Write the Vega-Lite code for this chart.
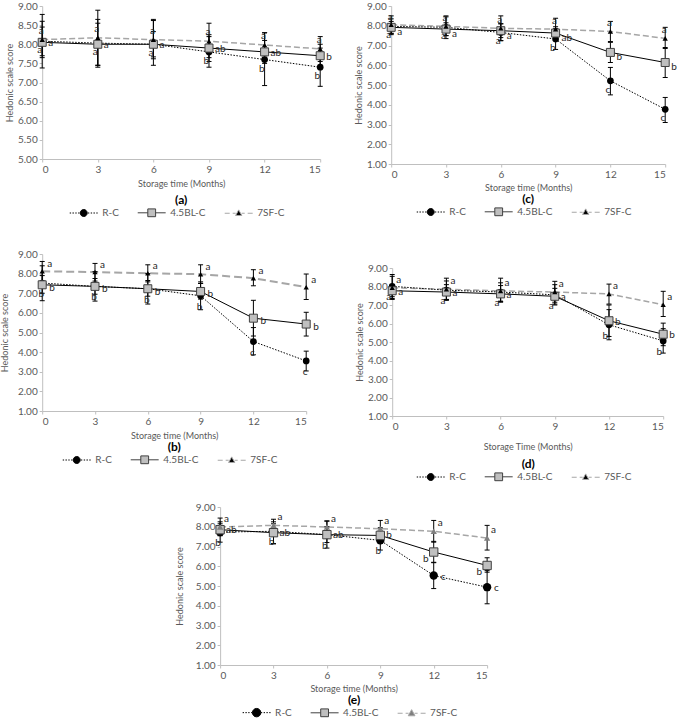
{
"$schema":"https://vega.github.io/schema/vega-lite/v6.json",
"padding":{"left":0,"top":1,"right":2,"bottom":0},
"config":{
 "font":"Lato",
 "view":{"stroke":null},
 "axis":{"grid":false,"domainColor":"#bfbfbf","tickColor":"#bfbfbf","tickSize":3,"labelFontSize":10,"labelColor":"#595959","labelPadding":2,"titleFontSize":9,"titleFontWeight":"normal","titleColor":"#595959","titlePadding":3},
 "legend":{"orient":"bottom","direction":"horizontal","titleOrient":"top","titleAnchor":"middle","titleFontSize":12,"titleFontWeight":"bold","titleColor":"#000000","titlePadding":-1,"labelFontSize":10,"labelColor":"#595959","labelOffset":12,"symbolSize":144,"symbolStrokeWidth":1,"columnPadding":16,"gridAlign":"each","offset":4,"padding":0,"layout":{"bottom":{"anchor":"middle"}}}
},
"datasets":{
"a":[
{"month":0,"series":"R-C","score":8.08,"lo":7.38,"hi":8.78,"sig":"a"},
{"month":0,"series":"4.5BL-C","score":8.05,"lo":7.65,"hi":8.45,"sig":"a"},
{"month":0,"series":"7SF-C","score":8.12,"lo":7.7,"hi":8.6,"sig":"a"},
{"month":3,"series":"R-C","score":8.03,"lo":7.4,"hi":8.65,"sig":"a"},
{"month":3,"series":"4.5BL-C","score":8.0,"lo":7.45,"hi":8.55,"sig":"a"},
{"month":3,"series":"7SF-C","score":8.17,"lo":7.45,"hi":8.89,"sig":"a"},
{"month":6,"series":"R-C","score":8.0,"lo":7.45,"hi":8.62,"sig":"a"},
{"month":6,"series":"4.5BL-C","score":8.0,"lo":7.67,"hi":8.33,"sig":"a"},
{"month":6,"series":"7SF-C","score":8.12,"lo":7.62,"hi":8.65,"sig":"a"},
{"month":9,"series":"R-C","score":7.8,"lo":7.4,"hi":8.2,"sig":"b"},
{"month":9,"series":"4.5BL-C","score":7.9,"lo":7.55,"hi":8.25,"sig":"ab"},
{"month":9,"series":"7SF-C","score":8.08,"lo":7.65,"hi":8.55,"sig":"a"},
{"month":12,"series":"R-C","score":7.6,"lo":6.92,"hi":8.3,"sig":"b"},
{"month":12,"series":"4.5BL-C","score":7.8,"lo":7.5,"hi":8.1,"sig":"ab"},
{"month":12,"series":"7SF-C","score":7.98,"lo":7.7,"hi":8.3,"sig":"a"},
{"month":15,"series":"R-C","score":7.4,"lo":6.9,"hi":7.9,"sig":"b"},
{"month":15,"series":"4.5BL-C","score":7.7,"lo":7.4,"hi":8.0,"sig":"b"},
{"month":15,"series":"7SF-C","score":7.88,"lo":7.55,"hi":8.2,"sig":"a"}
],
"b":[
{"month":0,"series":"R-C","score":7.52,"lo":6.62,"hi":8.4,"sig":"b"},
{"month":0,"series":"4.5BL-C","score":7.43,"lo":7.0,"hi":7.9,"sig":"b"},
{"month":0,"series":"7SF-C","score":8.12,"lo":7.6,"hi":8.62,"sig":"a"},
{"month":3,"series":"R-C","score":7.35,"lo":6.6,"hi":8.1,"sig":"b"},
{"month":3,"series":"4.5BL-C","score":7.35,"lo":6.95,"hi":7.75,"sig":"b"},
{"month":3,"series":"7SF-C","score":8.08,"lo":7.62,"hi":8.52,"sig":"a"},
{"month":6,"series":"R-C","score":7.23,"lo":6.45,"hi":8.0,"sig":"b"},
{"month":6,"series":"4.5BL-C","score":7.23,"lo":6.85,"hi":7.65,"sig":"b"},
{"month":6,"series":"7SF-C","score":8.02,"lo":7.58,"hi":8.45,"sig":"a"},
{"month":9,"series":"R-C","score":6.87,"lo":6.16,"hi":7.58,"sig":"b"},
{"month":9,"series":"4.5BL-C","score":7.09,"lo":6.7,"hi":7.5,"sig":"b"},
{"month":9,"series":"7SF-C","score":7.97,"lo":7.5,"hi":8.45,"sig":"a"},
{"month":12,"series":"R-C","score":4.54,"lo":3.86,"hi":5.25,"sig":"c"},
{"month":12,"series":"4.5BL-C","score":5.73,"lo":4.82,"hi":6.64,"sig":"b"},
{"month":12,"series":"7SF-C","score":7.77,"lo":7.38,"hi":8.2,"sig":"a"},
{"month":15,"series":"R-C","score":3.55,"lo":3.04,"hi":4.05,"sig":"c"},
{"month":15,"series":"4.5BL-C","score":5.43,"lo":4.82,"hi":6.03,"sig":"b"},
{"month":15,"series":"7SF-C","score":7.31,"lo":6.68,"hi":7.98,"sig":"a"}
],
"c":[
{"month":0,"series":"R-C","score":7.97,"lo":7.55,"hi":8.35,"sig":"a"},
{"month":0,"series":"4.5BL-C","score":7.92,"lo":7.62,"hi":8.22,"sig":"a"},
{"month":0,"series":"7SF-C","score":8.05,"lo":7.6,"hi":8.5,"sig":"a"},
{"month":3,"series":"R-C","score":7.92,"lo":7.35,"hi":8.45,"sig":"a"},
{"month":3,"series":"4.5BL-C","score":7.83,"lo":7.5,"hi":8.15,"sig":"a"},
{"month":3,"series":"7SF-C","score":7.97,"lo":7.5,"hi":8.5,"sig":"a"},
{"month":6,"series":"R-C","score":7.66,"lo":7.24,"hi":8.1,"sig":"a"},
{"month":6,"series":"4.5BL-C","score":7.75,"lo":7.4,"hi":8.1,"sig":"a"},
{"month":6,"series":"7SF-C","score":7.87,"lo":7.25,"hi":8.5,"sig":"a"},
{"month":9,"series":"R-C","score":7.33,"lo":6.8,"hi":7.85,"sig":"b"},
{"month":9,"series":"4.5BL-C","score":7.63,"lo":7.3,"hi":7.95,"sig":"ab"},
{"month":9,"series":"7SF-C","score":7.83,"lo":7.3,"hi":8.38,"sig":"a"},
{"month":12,"series":"R-C","score":5.21,"lo":4.5,"hi":5.89,"sig":"c"},
{"month":12,"series":"4.5BL-C","score":6.65,"lo":6.14,"hi":7.16,"sig":"b"},
{"month":12,"series":"7SF-C","score":7.71,"lo":7.2,"hi":8.22,"sig":"a"},
{"month":15,"series":"R-C","score":3.77,"lo":3.1,"hi":4.37,"sig":"c"},
{"month":15,"series":"4.5BL-C","score":6.14,"lo":5.38,"hi":6.9,"sig":"b"},
{"month":15,"series":"7SF-C","score":7.36,"lo":6.85,"hi":7.92,"sig":"a"}
],
"d":[
{"month":0,"series":"R-C","score":8.01,"lo":7.35,"hi":8.65,"sig":"a"},
{"month":0,"series":"4.5BL-C","score":7.77,"lo":7.45,"hi":8.1,"sig":"a"},
{"month":0,"series":"7SF-C","score":7.93,"lo":7.3,"hi":8.55,"sig":"a"},
{"month":3,"series":"R-C","score":7.8,"lo":7.3,"hi":8.3,"sig":"a"},
{"month":3,"series":"4.5BL-C","score":7.7,"lo":7.3,"hi":8.1,"sig":"a"},
{"month":3,"series":"7SF-C","score":7.85,"lo":7.25,"hi":8.45,"sig":"a"},
{"month":6,"series":"R-C","score":7.7,"lo":7.2,"hi":8.2,"sig":"a"},
{"month":6,"series":"4.5BL-C","score":7.6,"lo":7.15,"hi":8.05,"sig":"a"},
{"month":6,"series":"7SF-C","score":7.76,"lo":7.2,"hi":8.45,"sig":"a"},
{"month":9,"series":"R-C","score":7.55,"lo":7.0,"hi":8.1,"sig":"a"},
{"month":9,"series":"4.5BL-C","score":7.47,"lo":7.05,"hi":7.9,"sig":"a"},
{"month":9,"series":"7SF-C","score":7.7,"lo":7.15,"hi":8.28,"sig":"a"},
{"month":12,"series":"R-C","score":5.93,"lo":5.12,"hi":6.75,"sig":"b"},
{"month":12,"series":"4.5BL-C","score":6.15,"lo":5.3,"hi":7.0,"sig":"b"},
{"month":12,"series":"7SF-C","score":7.6,"lo":7.05,"hi":8.13,"sig":"a"},
{"month":15,"series":"R-C","score":5.06,"lo":4.4,"hi":5.72,"sig":"b"},
{"month":15,"series":"4.5BL-C","score":5.42,"lo":4.8,"hi":6.02,"sig":"b"},
{"month":15,"series":"7SF-C","score":7.01,"lo":6.38,"hi":7.74,"sig":"a"}
],
"e":[
{"month":0,"series":"R-C","score":7.73,"lo":7.22,"hi":8.25,"sig":"b"},
{"month":0,"series":"4.5BL-C","score":7.85,"lo":7.55,"hi":8.15,"sig":"ab"},
{"month":0,"series":"7SF-C","score":7.99,"lo":7.55,"hi":8.44,"sig":"a"},
{"month":3,"series":"R-C","score":7.77,"lo":7.14,"hi":8.15,"sig":"b"},
{"month":3,"series":"4.5BL-C","score":7.7,"lo":7.14,"hi":8.25,"sig":"ab"},
{"month":3,"series":"7SF-C","score":8.07,"lo":7.75,"hi":8.38,"sig":"a"},
{"month":6,"series":"R-C","score":7.6,"lo":6.92,"hi":8.28,"sig":"b"},
{"month":6,"series":"4.5BL-C","score":7.6,"lo":7.2,"hi":8.0,"sig":"ab"},
{"month":6,"series":"7SF-C","score":7.99,"lo":7.7,"hi":8.3,"sig":"a"},
{"month":9,"series":"R-C","score":7.31,"lo":6.82,"hi":7.8,"sig":"b"},
{"month":9,"series":"4.5BL-C","score":7.56,"lo":7.15,"hi":7.95,"sig":"b"},
{"month":9,"series":"7SF-C","score":7.9,"lo":7.5,"hi":8.32,"sig":"a"},
{"month":12,"series":"R-C","score":5.53,"lo":4.87,"hi":6.18,"sig":"c"},
{"month":12,"series":"4.5BL-C","score":6.72,"lo":6.2,"hi":7.26,"sig":"b"},
{"month":12,"series":"7SF-C","score":7.77,"lo":7.22,"hi":8.32,"sig":"a"},
{"month":15,"series":"R-C","score":4.94,"lo":4.1,"hi":5.78,"sig":"c"},
{"month":15,"series":"4.5BL-C","score":6.04,"lo":5.7,"hi":6.43,"sig":"b"},
{"month":15,"series":"7SF-C","score":7.43,"lo":6.82,"hi":8.07,"sig":"a"}
]
},
"vconcat":[
{"vconcat":[
 {"hconcat":[
  {"width":278,"height":153,"data":{"name":"a"},
   "encoding":{
    "x":{"field":"month","type":"quantitative","scale":{"domain":[0,15],"nice":false},"axis":{"values":[0,3,6,9,12,15],"title":"Storage time (Months)","titlePadding":5}},
    "y":{"field":"score","type":"quantitative","title":"Hedonic scale score","scale":{"domain":[5,9],"nice":false,"zero":false},"axis":{"values":[5,5.5,6,6.5,7,7.5,8,8.5,9],"format":".2f"}}
   },
   "layer":[
    {"transform":[{"filter":"false"}],"mark":{"type":"point","opacity":1,"strokeWidth":1},
     "encoding":{
      "shape":{"field":"series","type":"nominal","title":"(a)","legend":{"offset":7},"scale":{"domain":["R-C","4.5BL-C","7SF-C"],"range":["M-2.33,0H-2.1M-1.87,0H-1.63M-1.4,0H-1.17M-0.93,0H-0.7M0.7,0H0.93M1.17,0H1.4M1.63,0H1.87M2.1,0H2.33M-0.58,0A0.58,0.58,0,1,0,0.58,0A0.58,0.58,0,1,0,-0.58,0Z","M-2.33,0H-0.65M0.65,0H2.33M-0.65,-0.65H0.65V0.65H-0.65Z","M-2.33,0H-1.5M-1,0H-0.5M0.5,0H1M1.5,0H2.33M0,-0.56L0.51,0.37L-0.51,0.37Z"]}},
      "fill":{"field":"series","type":"nominal","title":"(a)","legend":{"offset":7},"scale":{"domain":["R-C","4.5BL-C","7SF-C"],"range":["#000000","#bfbfbf","#000000"]}},
      "stroke":{"field":"series","type":"nominal","title":"(a)","legend":{"offset":7},"scale":{"domain":["R-C","4.5BL-C","7SF-C"],"range":["#000000","#404040","#a6a6a6"]}}
     }},
    {"transform":[{"filter":"datum.series=='7SF-C'"}],"mark":{"type":"line","color":"#a6a6a6","strokeWidth":1.5,"strokeDash":[6,3]},"encoding":{}},
    {"transform":[{"filter":"datum.series=='4.5BL-C'"}],"mark":{"type":"line","color":"#000000","strokeWidth":1},"encoding":{}},
    {"transform":[{"filter":"datum.series=='R-C'"}],"mark":{"type":"line","color":"#000000","strokeWidth":1,"strokeDash":[1.5,1.5]},"encoding":{}},
    {"mark":{"type":"rule","color":"#000000","strokeWidth":1},"encoding":{"y":{"field":"lo","type":"quantitative","title":"Hedonic scale score","scale":{"domain":[5,9],"nice":false,"zero":false}},"y2":{"field":"hi"}}},
    {"mark":{"type":"tick","orient":"horizontal","size":5,"thickness":1,"color":"#000000","opacity":1},"encoding":{"y":{"field":"lo","type":"quantitative","title":"Hedonic scale score","scale":{"domain":[5,9],"nice":false,"zero":false}}}},
    {"mark":{"type":"tick","orient":"horizontal","size":5,"thickness":1,"color":"#000000","opacity":1},"encoding":{"y":{"field":"hi","type":"quantitative","title":"Hedonic scale score","scale":{"domain":[5,9],"nice":false,"zero":false}}}},
    {"transform":[{"filter":"datum.series=='R-C'"}],"mark":{"type":"point","shape":"circle","filled":true,"color":"#000000","size":45,"opacity":1}},
    {"transform":[{"filter":"datum.series=='4.5BL-C'"}],"mark":{"type":"point","shape":"square","filled":true,"color":"#bfbfbf","stroke":"#404040","strokeWidth":1,"size":64,"opacity":1}},
    {"transform":[{"filter":"datum.series=='7SF-C'"}],"mark":{"type":"point","shape":"triangle-up","filled":true,"color":"#000000","size":28,"opacity":1}},
    {"transform":[{"filter":"datum.series=='7SF-C'"}],"mark":{"type":"text","align":"center","dx":-1,"dy":-9,"fontSize":10,"color":"#262626"},"encoding":{"text":{"field":"sig"}}},
    {"transform":[{"filter":"datum.series=='4.5BL-C'"}],"mark":{"type":"text","align":"left","dx":6,"dy":1,"fontSize":10,"color":"#262626"},"encoding":{"text":{"field":"sig"}}},
    {"transform":[{"filter":"datum.series=='R-C'"}],"mark":{"type":"text","align":"right","dx":0,"dy":9,"fontSize":10,"color":"#262626"},"encoding":{"text":{"field":"sig"}}}
   ]},
  {"width":274,"height":158,"data":{"name":"c"},
   "encoding":{
    "x":{"field":"month","type":"quantitative","scale":{"domain":[0,15],"nice":false},"axis":{"values":[0,3,6,9,12,15],"title":"Storage time (Months)","titlePadding":4}},
    "y":{"field":"score","type":"quantitative","title":"Hedonic scale score","scale":{"domain":[1,9],"nice":false,"zero":false},"axis":{"values":[1,2,3,4,5,6,7,8,9],"format":".2f"}}
   },
   "layer":[
    {"transform":[{"filter":"false"}],"mark":{"type":"point","opacity":1,"strokeWidth":1},
     "encoding":{
      "shape":{"field":"series","type":"nominal","title":"(c)","legend":{"offset":2},"scale":{"domain":["R-C","4.5BL-C","7SF-C"],"range":["M-2.33,0H-2.1M-1.87,0H-1.63M-1.4,0H-1.17M-0.93,0H-0.7M0.7,0H0.93M1.17,0H1.4M1.63,0H1.87M2.1,0H2.33M-0.58,0A0.58,0.58,0,1,0,0.58,0A0.58,0.58,0,1,0,-0.58,0Z","M-2.33,0H-0.65M0.65,0H2.33M-0.65,-0.65H0.65V0.65H-0.65Z","M-2.33,0H-1.5M-1,0H-0.5M0.5,0H1M1.5,0H2.33M0,-0.56L0.51,0.37L-0.51,0.37Z"]}},
      "fill":{"field":"series","type":"nominal","title":"(c)","legend":{"offset":2},"scale":{"domain":["R-C","4.5BL-C","7SF-C"],"range":["#000000","#bfbfbf","#000000"]}},
      "stroke":{"field":"series","type":"nominal","title":"(c)","legend":{"offset":2},"scale":{"domain":["R-C","4.5BL-C","7SF-C"],"range":["#000000","#404040","#a6a6a6"]}}
     }},
    {"transform":[{"filter":"datum.series=='7SF-C'"}],"mark":{"type":"line","color":"#a6a6a6","strokeWidth":1.5,"strokeDash":[6,3]},"encoding":{}},
    {"transform":[{"filter":"datum.series=='4.5BL-C'"}],"mark":{"type":"line","color":"#000000","strokeWidth":1},"encoding":{}},
    {"transform":[{"filter":"datum.series=='R-C'"}],"mark":{"type":"line","color":"#000000","strokeWidth":1,"strokeDash":[1.5,1.5]},"encoding":{}},
    {"mark":{"type":"rule","color":"#000000","strokeWidth":1},"encoding":{"y":{"field":"lo","type":"quantitative","title":"Hedonic scale score","scale":{"domain":[1,9],"nice":false,"zero":false}},"y2":{"field":"hi"}}},
    {"mark":{"type":"tick","orient":"horizontal","size":5,"thickness":1,"color":"#000000","opacity":1},"encoding":{"y":{"field":"lo","type":"quantitative","title":"Hedonic scale score","scale":{"domain":[1,9],"nice":false,"zero":false}}}},
    {"mark":{"type":"tick","orient":"horizontal","size":5,"thickness":1,"color":"#000000","opacity":1},"encoding":{"y":{"field":"hi","type":"quantitative","title":"Hedonic scale score","scale":{"domain":[1,9],"nice":false,"zero":false}}}},
    {"transform":[{"filter":"datum.series=='R-C'"}],"mark":{"type":"point","shape":"circle","filled":true,"color":"#000000","size":45,"opacity":1}},
    {"transform":[{"filter":"datum.series=='4.5BL-C'"}],"mark":{"type":"point","shape":"square","filled":true,"color":"#bfbfbf","stroke":"#404040","strokeWidth":1,"size":64,"opacity":1}},
    {"transform":[{"filter":"datum.series=='7SF-C'"}],"mark":{"type":"point","shape":"triangle-up","filled":true,"color":"#000000","size":28,"opacity":1}},
    {"transform":[{"filter":"datum.series=='7SF-C'"}],"mark":{"type":"text","align":"center","dx":-1,"dy":-8,"fontSize":10,"color":"#262626"},"encoding":{"text":{"field":"sig"}}},
    {"transform":[{"filter":"datum.series=='4.5BL-C'"}],"mark":{"type":"text","align":"left","dx":6,"dy":5,"fontSize":10,"color":"#262626"},"encoding":{"text":{"field":"sig"}}},
    {"transform":[{"filter":"datum.series=='R-C'"}],"mark":{"type":"text","align":"right","dx":0,"dy":9,"fontSize":10,"color":"#262626"},"encoding":{"text":{"field":"sig"}}}
   ]}
 ],"spacing":22,"resolve":{"scale":{"x":"independent","y":"independent","shape":"independent","fill":"independent","stroke":"independent"},"legend":{"shape":"independent","fill":"independent","stroke":"independent"}}},
 {"hconcat":[
  {"width":264,"height":157,"data":{"name":"b"},
   "encoding":{
    "x":{"field":"month","type":"quantitative","scale":{"domain":[0,15],"nice":false},"axis":{"values":[0,3,6,9,12,15],"title":"Storage time (Months)","titlePadding":5}},
    "y":{"field":"score","type":"quantitative","title":"Hedonic scale score","scale":{"domain":[1,9],"nice":false,"zero":false},"axis":{"values":[1,2,3,4,5,6,7,8,9],"format":".2f","titlePadding":8}}
   },
   "layer":[
    {"transform":[{"filter":"false"}],"mark":{"type":"point","opacity":1,"strokeWidth":1},
     "encoding":{
      "shape":{"field":"series","type":"nominal","title":"(b)","legend":{"offset":2},"scale":{"domain":["R-C","4.5BL-C","7SF-C"],"range":["M-2.33,0H-2.1M-1.87,0H-1.63M-1.4,0H-1.17M-0.93,0H-0.7M0.7,0H0.93M1.17,0H1.4M1.63,0H1.87M2.1,0H2.33M-0.58,0A0.58,0.58,0,1,0,0.58,0A0.58,0.58,0,1,0,-0.58,0Z","M-2.33,0H-0.65M0.65,0H2.33M-0.65,-0.65H0.65V0.65H-0.65Z","M-2.33,0H-1.5M-1,0H-0.5M0.5,0H1M1.5,0H2.33M0,-0.56L0.51,0.37L-0.51,0.37Z"]}},
      "fill":{"field":"series","type":"nominal","title":"(b)","legend":{"offset":2},"scale":{"domain":["R-C","4.5BL-C","7SF-C"],"range":["#000000","#bfbfbf","#000000"]}},
      "stroke":{"field":"series","type":"nominal","title":"(b)","legend":{"offset":2},"scale":{"domain":["R-C","4.5BL-C","7SF-C"],"range":["#000000","#404040","#a6a6a6"]}}
     }},
    {"transform":[{"filter":"datum.series=='7SF-C'"}],"mark":{"type":"line","color":"#a6a6a6","strokeWidth":2,"strokeDash":[8,4]},"encoding":{}},
    {"transform":[{"filter":"datum.series=='4.5BL-C'"}],"mark":{"type":"line","color":"#000000","strokeWidth":1},"encoding":{}},
    {"transform":[{"filter":"datum.series=='R-C'"}],"mark":{"type":"line","color":"#000000","strokeWidth":1,"strokeDash":[1.5,1.5]},"encoding":{}},
    {"mark":{"type":"rule","color":"#000000","strokeWidth":1},"encoding":{"y":{"field":"lo","type":"quantitative","title":"Hedonic scale score","scale":{"domain":[1,9],"nice":false,"zero":false}},"y2":{"field":"hi"}}},
    {"mark":{"type":"tick","orient":"horizontal","size":5,"thickness":1,"color":"#000000","opacity":1},"encoding":{"y":{"field":"lo","type":"quantitative","title":"Hedonic scale score","scale":{"domain":[1,9],"nice":false,"zero":false}}}},
    {"mark":{"type":"tick","orient":"horizontal","size":5,"thickness":1,"color":"#000000","opacity":1},"encoding":{"y":{"field":"hi","type":"quantitative","title":"Hedonic scale score","scale":{"domain":[1,9],"nice":false,"zero":false}}}},
    {"transform":[{"filter":"datum.series=='R-C'"}],"mark":{"type":"point","shape":"circle","filled":true,"color":"#000000","size":45,"opacity":1}},
    {"transform":[{"filter":"datum.series=='4.5BL-C'"}],"mark":{"type":"point","shape":"square","filled":true,"color":"#bfbfbf","stroke":"#404040","strokeWidth":1,"size":64,"opacity":1}},
    {"transform":[{"filter":"datum.series=='7SF-C'"}],"mark":{"type":"point","shape":"triangle-up","filled":true,"color":"#000000","size":28,"opacity":1}},
    {"transform":[{"filter":"datum.series=='7SF-C'"}],"mark":{"type":"text","align":"left","dx":5,"dy":-7,"fontSize":10,"color":"#262626"},"encoding":{"text":{"field":"sig"}}},
    {"transform":[{"filter":"datum.series=='4.5BL-C'"}],"mark":{"type":"text","align":"left","dx":7,"dy":3,"fontSize":10,"color":"#262626"},"encoding":{"text":{"field":"sig"}}},
    {"transform":[{"filter":"datum.series=='R-C'"}],"mark":{"type":"text","align":"center","dx":-1,"dy":11,"fontSize":10,"color":"#262626"},"encoding":{"text":{"field":"sig"}}}
   ]},
  {"width":271,"height":162,"data":{"name":"d"},
   "encoding":{
    "x":{"field":"month","type":"quantitative","scale":{"domain":[0,15],"nice":false},"axis":{"values":[0,3,6,9,12,15],"title":"Storage Time (Months)","titlePadding":11}},
    "y":{"field":"score","type":"quantitative","title":"Hedonic scale score","scale":{"domain":[1,9],"nice":false,"zero":false,"range":[162,14]},"axis":{"values":[1,2,3,4,5,6,7,8,9],"format":".2f"}}
   },
   "layer":[
    {"transform":[{"filter":"false"}],"mark":{"type":"point","opacity":1,"strokeWidth":1},
     "encoding":{
      "shape":{"field":"series","type":"nominal","title":"(d)","legend":{"offset":8},"scale":{"domain":["R-C","4.5BL-C","7SF-C"],"range":["M-2.33,0H-2.1M-1.87,0H-1.63M-1.4,0H-1.17M-0.93,0H-0.7M0.7,0H0.93M1.17,0H1.4M1.63,0H1.87M2.1,0H2.33M-0.58,0A0.58,0.58,0,1,0,0.58,0A0.58,0.58,0,1,0,-0.58,0Z","M-2.33,0H-0.65M0.65,0H2.33M-0.65,-0.65H0.65V0.65H-0.65Z","M-2.33,0H-1.5M-1,0H-0.5M0.5,0H1M1.5,0H2.33M0,-0.56L0.51,0.37L-0.51,0.37Z"]}},
      "fill":{"field":"series","type":"nominal","title":"(d)","legend":{"offset":8},"scale":{"domain":["R-C","4.5BL-C","7SF-C"],"range":["#000000","#bfbfbf","#000000"]}},
      "stroke":{"field":"series","type":"nominal","title":"(d)","legend":{"offset":8},"scale":{"domain":["R-C","4.5BL-C","7SF-C"],"range":["#000000","#404040","#a6a6a6"]}}
     }},
    {"transform":[{"filter":"datum.series=='7SF-C'"}],"mark":{"type":"line","color":"#a6a6a6","strokeWidth":1.5,"strokeDash":[6,3]},"encoding":{}},
    {"transform":[{"filter":"datum.series=='4.5BL-C'"}],"mark":{"type":"line","color":"#000000","strokeWidth":1},"encoding":{}},
    {"transform":[{"filter":"datum.series=='R-C'"}],"mark":{"type":"line","color":"#000000","strokeWidth":1,"strokeDash":[1.5,1.5]},"encoding":{}},
    {"mark":{"type":"rule","color":"#000000","strokeWidth":1},"encoding":{"y":{"field":"lo","type":"quantitative","title":"Hedonic scale score","scale":{"domain":[1,9],"nice":false,"zero":false,"range":[162,14]}},"y2":{"field":"hi"}}},
    {"mark":{"type":"tick","orient":"horizontal","size":5,"thickness":1,"color":"#000000","opacity":1},"encoding":{"y":{"field":"lo","type":"quantitative","title":"Hedonic scale score","scale":{"domain":[1,9],"nice":false,"zero":false,"range":[162,14]}}}},
    {"mark":{"type":"tick","orient":"horizontal","size":5,"thickness":1,"color":"#000000","opacity":1},"encoding":{"y":{"field":"hi","type":"quantitative","title":"Hedonic scale score","scale":{"domain":[1,9],"nice":false,"zero":false,"range":[162,14]}}}},
    {"transform":[{"filter":"datum.series=='R-C'"}],"mark":{"type":"point","shape":"circle","filled":true,"color":"#000000","size":45,"opacity":1}},
    {"transform":[{"filter":"datum.series=='4.5BL-C'"}],"mark":{"type":"point","shape":"square","filled":true,"color":"#bfbfbf","stroke":"#404040","strokeWidth":1,"size":64,"opacity":1}},
    {"transform":[{"filter":"datum.series=='7SF-C'"}],"mark":{"type":"point","shape":"triangle-up","filled":true,"color":"#000000","size":28,"opacity":1}},
    {"transform":[{"filter":"datum.series=='7SF-C'"}],"mark":{"type":"text","align":"left","dx":4,"dy":-8,"fontSize":10,"color":"#262626"},"encoding":{"text":{"field":"sig"}}},
    {"transform":[{"filter":"datum.series=='4.5BL-C'"}],"mark":{"type":"text","align":"left","dx":6,"dy":1,"fontSize":10,"color":"#262626"},"encoding":{"text":{"field":"sig"}}},
    {"transform":[{"filter":"datum.series=='R-C'"}],"mark":{"type":"text","align":"right","dx":-1,"dy":11,"fontSize":10,"color":"#262626"},"encoding":{"text":{"field":"sig"}}}
   ]}
 ],"spacing":36,"resolve":{"scale":{"x":"independent","y":"independent","shape":"independent","fill":"independent","stroke":"independent"},"legend":{"shape":"independent","fill":"independent","stroke":"independent"}}}
],"spacing":30,"resolve":{"scale":{"x":"independent","y":"independent","shape":"independent","fill":"independent","stroke":"independent"},"legend":{"shape":"independent","fill":"independent","stroke":"independent"}}},
{"width":267,"height":158,"data":{"name":"e"},
 "encoding":{
  "x":{"field":"month","type":"quantitative","scale":{"domain":[0,15],"nice":false},"axis":{"values":[0,3,6,9,12,15],"title":"Storage time (Months)","titlePadding":4}},
  "y":{"field":"score","type":"quantitative","title":"Hedonic scale score","scale":{"domain":[1,9],"nice":false,"zero":false},"axis":{"values":[1,2,3,4,5,6,7,8,9],"format":".2f","titlePadding":11}}
 },
 "layer":[
  {"transform":[{"filter":"false"}],"mark":{"type":"point","opacity":1,"strokeWidth":1},
   "encoding":{
    "shape":{"field":"series","type":"nominal","title":"(e)","legend":{"offset":2},"scale":{"domain":["R-C","4.5BL-C","7SF-C"],"range":["M-2.33,0H-2.1M-1.87,0H-1.63M-1.4,0H-1.17M-0.93,0H-0.7M0.7,0H0.93M1.17,0H1.4M1.63,0H1.87M2.1,0H2.33M-0.7,0A0.7,0.7,0,1,0,0.7,0A0.7,0.7,0,1,0,-0.7,0Z","M-2.33,0H-0.65M0.65,0H2.33M-0.65,-0.65H0.65V0.65H-0.65Z","M-2.33,0H-1.5M-1,0H-0.5M0.5,0H1M1.5,0H2.33M0,-0.6L0.56,0.42L-0.56,0.42Z"]}},
    "fill":{"field":"series","type":"nominal","title":"(e)","legend":{"offset":2},"scale":{"domain":["R-C","4.5BL-C","7SF-C"],"range":["#000000","#bfbfbf","#7f7f7f"]}},
    "stroke":{"field":"series","type":"nominal","title":"(e)","legend":{"offset":2},"scale":{"domain":["R-C","4.5BL-C","7SF-C"],"range":["#000000","#404040","#a6a6a6"]}}
   }},
  {"transform":[{"filter":"datum.series=='7SF-C'"}],"mark":{"type":"line","color":"#a6a6a6","strokeWidth":1.5,"strokeDash":[6,3]},"encoding":{}},
  {"transform":[{"filter":"datum.series=='4.5BL-C'"}],"mark":{"type":"line","color":"#000000","strokeWidth":1},"encoding":{}},
  {"transform":[{"filter":"datum.series=='R-C'"}],"mark":{"type":"line","color":"#000000","strokeWidth":1,"strokeDash":[1.5,1.5]},"encoding":{}},
  {"mark":{"type":"rule","color":"#000000","strokeWidth":1},"encoding":{"y":{"field":"lo","type":"quantitative","title":"Hedonic scale score","scale":{"domain":[1,9],"nice":false,"zero":false}},"y2":{"field":"hi"}}},
  {"mark":{"type":"tick","orient":"horizontal","size":5,"thickness":1,"color":"#000000","opacity":1},"encoding":{"y":{"field":"lo","type":"quantitative","title":"Hedonic scale score","scale":{"domain":[1,9],"nice":false,"zero":false}}}},
  {"mark":{"type":"tick","orient":"horizontal","size":5,"thickness":1,"color":"#000000","opacity":1},"encoding":{"y":{"field":"hi","type":"quantitative","title":"Hedonic scale score","scale":{"domain":[1,9],"nice":false,"zero":false}}}},
  {"transform":[{"filter":"datum.series=='R-C'"}],"mark":{"type":"point","shape":"circle","filled":true,"color":"#000000","size":70,"opacity":1}},
  {"transform":[{"filter":"datum.series=='4.5BL-C'"}],"mark":{"type":"point","shape":"square","filled":true,"color":"#bfbfbf","stroke":"#404040","strokeWidth":1,"size":70,"opacity":1}},
  {"transform":[{"filter":"datum.series=='7SF-C'"}],"mark":{"type":"point","shape":"triangle-up","filled":true,"color":"#7f7f7f","size":40,"opacity":1}},
  {"transform":[{"filter":"datum.series=='7SF-C'"}],"mark":{"type":"text","align":"left","dx":4,"dy":-8,"fontSize":10,"color":"#262626"},"encoding":{"text":{"field":"sig"}}},
  {"transform":[{"filter":"datum.series=='4.5BL-C' && datum.month<=9"}],"mark":{"type":"text","align":"left","dx":6,"dy":0,"fontSize":10,"color":"#262626"},"encoding":{"text":{"field":"sig"}}},
  {"transform":[{"filter":"datum.series=='4.5BL-C' && datum.month>=12"}],"mark":{"type":"text","align":"right","dx":-5,"dy":7,"fontSize":10,"color":"#262626"},"encoding":{"text":{"field":"sig"}}},
  {"transform":[{"filter":"datum.series=='R-C' && datum.month<=9"}],"mark":{"type":"text","align":"center","dx":-2,"dy":11,"fontSize":10,"color":"#262626"},"encoding":{"text":{"field":"sig"}}},
  {"transform":[{"filter":"datum.series=='R-C' && datum.month>=12"}],"mark":{"type":"text","align":"left","dx":7,"dy":1,"fontSize":10,"color":"#262626"},"encoding":{"text":{"field":"sig"}}}
 ]}
],
"spacing":19,
"center":true,
"resolve":{"scale":{"x":"independent","y":"independent","shape":"independent","fill":"independent","stroke":"independent"},"legend":{"shape":"independent","fill":"independent","stroke":"independent"}}
}
